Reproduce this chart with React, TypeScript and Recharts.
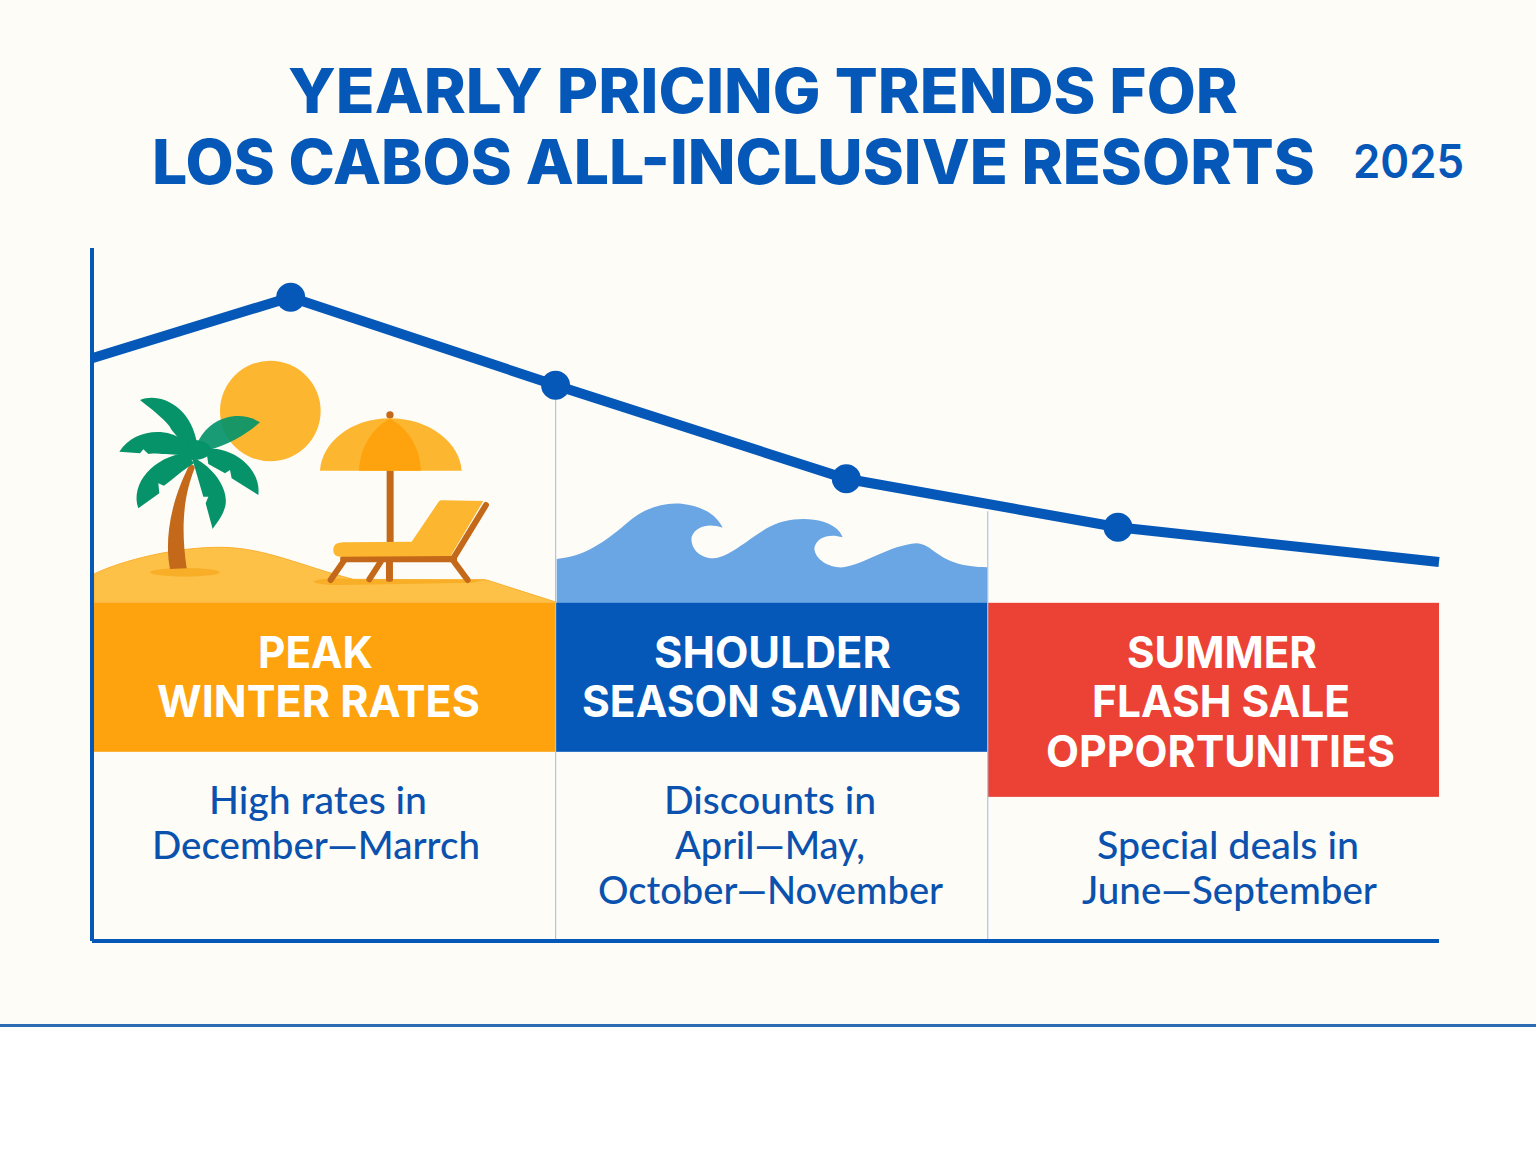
import { ComposedChart, Line, ReferenceArea, ReferenceLine, XAxis, YAxis } from "recharts";

const BLUE = "#0558B8";
const GOLD = "#FDB62F";
const ORANGE = "#FEA30D";
const BROWN = "#C4691A";
const GREEN = "#07936A";

// month position along the year axis (0-12) and relative price index (0-100)
const monthPos = [0, 1.77, 4.13, 6.72, 9.14, 12];
const priceIndex = [84.1, 92.9, 80.2, 66.7, 59.7, 54.7];
const markedPoints = [1, 2, 3, 4];

const seasonNames = ["Peak", "Shoulder", "Summer"];
const seasonStart = [0, 4.13, 7.98];
const seasonEnd = [4.13, 7.98, 12];
const seasonTop = [48.8, 48.8, 48.8];
const seasonBottom = [27.3, 27.3, 20.8];
const seasonColors = [ORANGE, BLUE, "#EB4235"];

const dividerPos = [4.13, 7.98];
const dividerTop = [80, 62];

const chartData = monthPos.map((m, i) => ({ month: m, price: priceIndex[i] }));

// text, left edge, width, baseline
const titleLines: [string, number, number, number][] = [
  ["YEARLY PRICING TRENDS FOR", 288, 950, 113],
  ["LOS CABOS ALL-INCLUSIVE RESORTS", 152, 1163, 184],
];
const headingLines: [string, number, number, number][][] = [
  [
    ["PEAK", 258, 115, 668],
    ["WINTER RATES", 157, 323, 717],
  ],
  [
    ["SHOULDER", 654, 237, 668],
    ["SEASON SAVINGS", 582, 379, 717],
  ],
  [
    ["SUMMER", 1127, 190, 668],
    ["FLASH SALE", 1092, 258, 717],
    ["OPPORTUNITIES", 1046, 349, 767],
  ],
];
const noteLines: [string, number, number, number][] = [
  ["High rates in", 209, 218, 814],
  ["December—Marrch", 152, 328, 859],
  ["Discounts in", 664, 212, 814],
  ["April—May,", 675, 190, 859],
  ["October—November", 598, 345, 904],
  ["Special deals in", 1097, 262, 859],
  ["June—September", 1082, 295, 904],
];

function Dot(props: any) {
  if (!markedPoints.includes(props.index)) return <g key={props.index} />;
  return <circle key={props.index} cx={props.cx} cy={props.cy} r={14.5} fill={BLUE} />;
}

function TextLines({ lines, size, weight, fill, family }: any) {
  return (
    <g fontFamily={family} fontSize={size} fontWeight={weight} fill={fill}>
      {lines.map(([t, x, w, y]: [string, number, number, number]) => (
        <text key={t} x={x} y={y} textLength={w} lengthAdjust="spacingAndGlyphs">
          {t}
        </text>
      ))}
    </g>
  );
}

function SeasonBox(props: any) {
  return (
    <g>
      <rect x={props.x} y={props.y} width={props.width} height={props.height} fill={props.fill} />
      <TextLines lines={props.lines} size={44} weight={700} fill="#FFFFFF" family="Inter" />
    </g>
  );
}

function BeachScene() {
  return (
    <g transform="translate(90 350) scale(0.3333)">
      <circle cx={541} cy={183} r={151} fill={GOLD} />
      <path
        d="M12,672 C100,630 260,590 400,592 C530,595 640,650 790,688 L1190,690 L1400,757 L12,757 Z"
        fill="#FDC148"
        stroke="#F9B02F"
        strokeWidth={3}
      />
      <ellipse cx={285} cy={667} rx={105} ry={13} fill="#F9AE27" />
      <path d="M670,695 C690,682 760,685 830,690 L1190,688 L1150,698 L760,705 C710,705 680,702 670,695 Z" fill="#F9AE27" />
      {/* palm */}
      <path d="M298,345 C310,340 318,350 312,360 C285,430 270,520 290,655 L240,657 C225,580 235,470 298,345 Z" fill={BROWN} />
      <g fill={GREEN}>
        <ellipse cx={312} cy={300} rx={52} ry={30} />
        <path d="M150,150 C205,125 305,165 322,285 L272,272 L245,240 L238,228 C215,200 185,178 150,150 Z" />
        <path d="M320,285 C350,205 445,175 510,217 C470,252 420,282 355,300 Z" opacity={0.93} />
        <path d="M88,305 C130,240 225,230 278,270 L320,300 L270,314 C230,314 190,307 175,312 L160,298 L150,310 Z" />
        <path d="M145,475 C120,400 190,320 290,308 L312,340 C280,358 250,388 222,407 L205,400 L208,430 Z" />
        <path d="M348,296 C435,290 515,360 505,435 L425,385 L420,360 L405,370 L355,342 Z" />
        <path d="M305,320 C365,345 425,420 403,478 C395,502 380,520 368,537 L347,460 L355,440 L340,440 Z" />
      </g>
      {/* umbrella */}
      <rect x={890} y={360} width={21} height={216} fill={BROWN} />
      <rect x={888} y={625} width={21} height={70} rx={6} fill={BROWN} />
      <circle cx={900} cy={195} r={11} fill={BROWN} />
      <path d="M690,362 C695,280 780,205 900,205 C1020,205 1110,280 1115,362 Z" fill={GOLD} />
      <path d="M807,362 C810,290 850,230 900,207 C950,230 990,290 993,362 Z" fill={ORANGE} />
      {/* lounger */}
      <g stroke={BROWN} strokeLinecap="round" fill="none">
        <path d="M1188,465 L1092,622" strokeWidth={18} />
        <path d="M760,627 L1092,627" strokeWidth={19} />
        <path d="M762,632 L722,690" strokeWidth={18} />
        <path d="M872,636 L838,688" strokeWidth={18} />
        <path d="M1090,632 L1133,690" strokeWidth={18} />
      </g>
      <path
        d="M730,600 C730,580 745,577 770,577 L965,575 L1045,457 C1048,452 1052,451 1060,451 L1180,453 L1082,618 L750,620 C735,620 730,610 730,600 Z"
        fill={GOLD}
      />
    </g>
  );
}

function WaveScene() {
  return (
    <g transform="translate(540 460) scale(0.3333)">
      <path
        d="M50,297 C130,290 190,250 260,190 C310,145 370,125 430,132 C490,140 530,165 548,203 C510,190 470,195 455,230 C450,265 480,295 520,295 C570,290 620,240 680,205 C730,175 800,170 850,185 C880,195 900,210 908,232 C870,220 830,230 823,265 C825,300 870,325 910,322 C970,315 1050,255 1130,250 C1190,255 1190,320 1343,322 L1343,430 L50,430 Z"
        fill="#6AA5E4"
      />
    </g>
  );
}

export default function App() {
  return (
    <div style={{ position: "absolute", left: 0, top: 0, width: 1536, height: 1154, background: "#fff" }}>
      <div
        style={{
          position: "absolute",
          left: 0,
          top: 0,
          width: 1536,
          height: 1024,
          background: "#FEFCF7",
          borderBottom: "3px solid #2B6CB5",
        }}
      />
      <div style={{ position: "absolute", left: 0, top: 0 }}>
        <ComposedChart
          width={1536}
          height={1154}
          data={chartData}
          margin={{ top: 248, right: 97, bottom: 212, left: 91 }}
        >
          <XAxis
            type="number"
            dataKey="month"
            domain={[0, 12]}
            height={1}
            tick={false}
            tickLine={false}
            axisLine={{ stroke: BLUE, strokeWidth: 4 }}
          />
          <YAxis
            type="number"
            domain={[0, 100]}
            width={1}
            tick={false}
            tickLine={false}
            axisLine={{ stroke: BLUE, strokeWidth: 4 }}
          />
          {dividerPos.map((x, i) => (
            <ReferenceLine
              key={x}
              segment={[
                { x, y: 0 },
                { x, y: dividerTop[i] },
              ]}
              stroke="#A9C6E8"
              strokeWidth={1.2}
            />
          ))}
          {seasonNames.map((name, i) => (
            <ReferenceArea
              key={name}
              x1={seasonStart[i]}
              x2={seasonEnd[i]}
              y1={seasonBottom[i]}
              y2={seasonTop[i]}
              fill={seasonColors[i]}
              fillOpacity={1}
              stroke="none"
              shape={(p: any) => <SeasonBox {...p} lines={headingLines[i]} />}
            />
          ))}
          <BeachScene />
          <WaveScene />
          <Line
            dataKey="price"
            type="linear"
            stroke={BLUE}
            strokeWidth={10}
            dot={Dot}
            activeDot={false}
            isAnimationActive={false}
          />
          <TextLines lines={titleLines} size={62} weight={800} fill={BLUE} family="Inter" />
          <text x={1353} y={178} textLength={111} lengthAdjust="spacingAndGlyphs" fontFamily="Inter" fontSize={46} fontWeight={600} fill={BLUE}>
            2025
          </text>
          <TextLines lines={noteLines} size={38} weight={500} fill="#0A52AE" family="Lato" />
        </ComposedChart>
      </div>
    </div>
  );
}
